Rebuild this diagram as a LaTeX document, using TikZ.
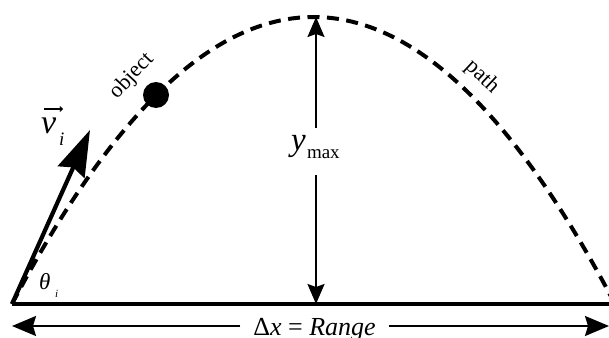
\documentclass[tikz,border=0pt]{standalone}
\usepackage{fontspec}
\setmainfont{Liberation Serif}
\usetikzlibrary{arrows.meta}
\begin{document}
\begin{tikzpicture}[x=1pt,y=-1pt,
  traj/.style={line width=4pt, dash pattern=on 12pt off 7.5pt},
  ground/.style={line width=4.5pt},
  dimarrow/.style={line width=2pt},
  vtip/.style={-{Stealth[length=20pt,width=17pt,inset=3pt]}},
  htip/.style={-{Stealth[length=24pt,width=20pt,inset=3pt]}},
  vel/.style={line width=4.2pt, -{Stealth[length=46pt,width=29pt,inset=5pt]}},
  lbl/.style={inner sep=0pt, outer sep=0pt},
  curvelbl/.style={inner sep=0pt, font=\fontsize{22}{22}\selectfont}
]
\useasboundingbox (0,0) rectangle (609,337);
% key points
\coordinate (O) at (12,304);
\coordinate (E) at (609,304);
\coordinate (Rend) at (615,304);
\coordinate (top) at (316,17);
\coordinate (foot) at (316,304);
\coordinate (ygapT) at (316,128);
\coordinate (ygapB) at (316,175);
\coordinate (L) at (12,326);
\coordinate (R) at (609,326);
\coordinate (vend) at (90,130);
% trajectory
\draw[traj] (O) .. controls (213,-78.67) and (414,-78.67) .. (Rend);
% ground
\draw[ground] (O) -- (E);
% velocity
\draw[vel] (O) -- (vend);
% object
\node[circle, fill=black, minimum size=26pt, inner sep=0pt] (obj) at (156,95) {};
\node[curvelbl, rotate=47] (objlbl) at (132,76) {object};
\node[curvelbl, rotate=-43] (pathlbl) at (482,77) {path};
% y max
\node[lbl, anchor=base west] (ylbl) at (291,150) {\fontsize{33}{33}\selectfont\itshape y};
\node[lbl, anchor=base west] (maxlbl) at (307,158) {\fontsize{19}{19}\selectfont max};
\draw[dimarrow, vtip] (ygapT) -- (top);
\draw[dimarrow, vtip] (ygapB) -- (foot);
% range
\node[lbl, inner xsep=13pt, anchor=base] (range) at (314.5,335) {\fontsize{26}{26}\selectfont Δ\textit{x} = \textit{Range}};
\draw[dimarrow, htip] (range.west |- L) -- (L);
\draw[dimarrow, htip] (range.east |- R) -- (R);
% v_i
\node[lbl, anchor=base west] (vlab) at (41,133) {\fontsize{34}{34}\selectfont\itshape v};
\node[lbl, anchor=base west] (vsub) at (59,145) {\fontsize{19}{19}\selectfont\itshape i};
\coordinate (vaccA) at (44,109);
\coordinate (vaccB) at (63,109);
\draw[line width=1.1pt, -{To[length=3.5pt,width=5.5pt]}] (vaccA) -- (vaccB);
% theta_i
\node[lbl, anchor=base west] (thlab) at (39,289) {\fontsize{23}{23}\selectfont\itshape θ};
\node[lbl, anchor=base west] (thsub) at (55,297) {\fontsize{11}{11}\selectfont\itshape i};
\end{tikzpicture}
\end{document}
